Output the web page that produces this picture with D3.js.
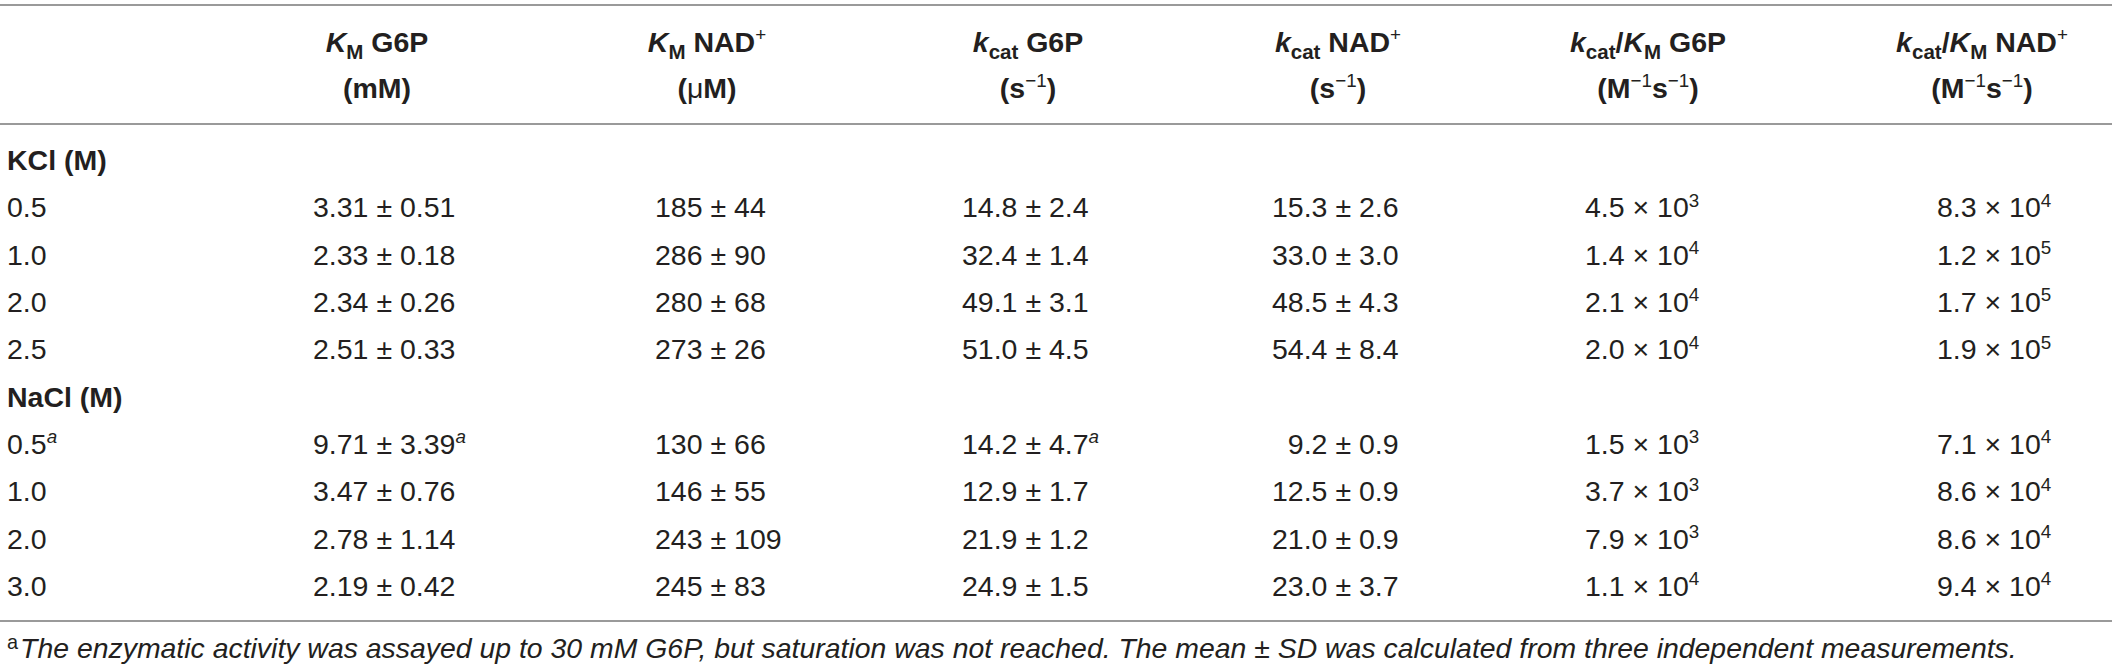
<!DOCTYPE html>
<html><head><meta charset="utf-8">
<script src="https://cdn.jsdelivr.net/npm/d3@7"></script>
<style>body{margin:0;background:#fff} svg{display:block}</style>
</head><body><svg id="c" width="2117" height="671"></svg>
<script>
// ---------- data ----------
const saltGroups = ["KCl (M)", "NaCl (M)"];
const kclConc = ["0.5", "1.0", "2.0", "2.5"];
const naclConc = ["0.5", "1.0", "2.0", "3.0"];
const kmG6PMean = [3.31, 2.33, 2.34, 2.51, 9.71, 3.47, 2.78, 2.19];
const kmG6PSd   = [0.51, 0.18, 0.26, 0.33, 3.39, 0.76, 1.14, 0.42];
const kmNADMean = [185, 286, 280, 273, 130, 146, 243, 245];
const kmNADSd   = [44, 90, 68, 26, 66, 55, 109, 83];
const kcatG6PMean = [14.8, 32.4, 49.1, 51.0, 14.2, 12.9, 21.9, 24.9];
const kcatG6PSd   = [2.4, 1.4, 3.1, 4.5, 4.7, 1.7, 1.2, 1.5];
const kcatNADMean = [15.3, 33.0, 48.5, 54.4, 9.2, 12.5, 21.0, 23.0];
const kcatNADSd   = [2.6, 3.0, 4.3, 8.4, 0.9, 0.9, 0.9, 3.7];
const effG6PMant = [4.5, 1.4, 2.1, 2.0, 1.5, 3.7, 7.9, 1.1];
const effG6PExp  = [3, 4, 4, 4, 3, 3, 3, 4];
const effNADMant = [8.3, 1.2, 1.7, 1.9, 7.1, 8.6, 8.6, 9.4];
const effNADExp  = [4, 5, 5, 5, 4, 4, 4, 4];
// footnote "a" marks: [row index, column index] (column 0 = concentration)
const footnoteMarks = [[4, 0], [4, 1], [4, 3]];
const headerTop = [
  [["K","i"],["M","sub"],[" G6P",""]],
  [["K","i"],["M","sub"],[" NAD",""],["+","sup"]],
  [["k","i"],["cat","sub"],[" G6P",""]],
  [["k","i"],["cat","sub"],[" NAD",""],["+","sup"]],
  [["k","i"],["cat","sub"],["/",""],["K","i"],["M","sub"],[" G6P",""]],
  [["k","i"],["cat","sub"],["/",""],["K","i"],["M","sub"],[" NAD",""],["+","sup"]]
];
const headerBottom = [
  [["(mM)",""]],
  [["(",""],["μ","n"],["M)",""]],
  [["(s",""],["−1","sup"],[")",""]],
  [["(s",""],["−1","sup"],[")",""]],
  [["(M",""],["−1","sup"],["s",""],["−1","sup"],[")",""]],
  [["(M",""],["−1","sup"],["s",""],["−1","sup"],[")",""]]
];
const footnoteText = "The enzymatic activity was assayed up to 30 mM G6P, but saturation was not reached. The mean ± SD was calculated from three independent measurements.";

// ---------- layout ----------
const W = 2117, H = 671;
const FONT = "'Liberation Sans', Arial, Helvetica, sans-serif";
const FS = 28.5;
const headerCenters = [377, 707, 1028, 1338, 1648, 1982];
const valueStarts = [313, 655, 962, 1272, 1585, 1937];
const labelX = 7;
const lineColor = "#9a9a9a";
const textColor = "#231f20";

const svg = d3.select("#c").attr("font-family", FONT).attr("fill", textColor);

// rows: group header + rows
const rowKeys = [];
rowKeys.push("g0"); kclConc.forEach((c, i) => rowKeys.push("r" + i));
rowKeys.push("g1"); naclConc.forEach((c, i) => rowKeys.push("r" + (i + 4)));
const y = d3.scalePoint().domain(rowKeys).range([160, 586]);
const baseOff = 10;

// rules
const rules = [5, 124, 621];
svg.selectAll("line.rule").data(rules).join("line")
  .attr("x1", 0).attr("x2", 2112).attr("y1", d => d).attr("y2", d => d)
  .attr("stroke", lineColor).attr("stroke-width", 2);

// rich text helper
function rich(sel, segs, size, bold) {
  let off = 0;
  segs.forEach(([t, k]) => {
    let target = 0, fs = size, style = null, weight = bold ? "bold" : "normal";
    if (k === "sub") { target = size * 0.24; fs = size * 0.72; }
    if (k === "sup") { target = -size * 0.38; fs = size * 0.66; weight = "normal"; }
    if (k === "i") style = "italic";
    if (k === "n") weight = "normal";
    if (k === "supi") { target = -size * 0.38; fs = size * 0.66; style = "italic"; weight = "normal"; }
    const ts = sel.append("tspan").text(t).attr("font-size", fs).attr("font-weight", weight);
    if (style) ts.attr("font-style", style);
    if (target !== off) { ts.attr("dy", target - off); off = target; }
  });
}

// headers
headerTop.forEach((segs, j) => {
  const t = svg.append("text").attr("x", headerCenters[j]).attr("y", 52)
    .attr("text-anchor", "middle");
  rich(t, segs, FS, true);
  const b = svg.append("text").attr("x", headerCenters[j]).attr("y", 98)
    .attr("text-anchor", "middle");
  rich(b, headerBottom[j], FS, true);
});

// group labels
saltGroups.forEach((g, i) => {
  svg.append("text").attr("x", labelX).attr("y", y("g" + i) + baseOff)
    .attr("font-size", FS).attr("font-weight", "bold").text(g);
});

const f2 = d3.format(".2f"), f1 = d3.format(".1f"), f0 = d3.format("d");
const conc = kclConc.concat(naclConc);
const hasMark = (r, c) => footnoteMarks.some(m => m[0] === r && m[1] === c);
const pm = (m, s, f) => f(m) + " ± " + f(s);

conc.forEach((c, r) => {
  const yy = y("r" + r) + baseOff;
  const cells = [
    [[c, ""]],
    [[pm(kmG6PMean[r], kmG6PSd[r], f2), ""]],
    [[pm(kmNADMean[r], kmNADSd[r], f0), ""]],
    [[pm(kcatG6PMean[r], kcatG6PSd[r], f1), ""]],
    [[(kcatNADMean[r] < 10 ? "\u2007" : "") + pm(kcatNADMean[r], kcatNADSd[r], f1), ""]],
    [[f1(effG6PMant[r]) + " × 10", ""], [String(effG6PExp[r]), "sup"]],
    [[f1(effNADMant[r]) + " × 10", ""], [String(effNADExp[r]), "sup"]]
  ];
  cells.forEach((segs, ci) => {
    if (hasMark(r, ci)) segs = segs.concat([["a", "supi"]]);
    const x = ci === 0 ? labelX : valueStarts[ci - 1];
    const t = svg.append("text").attr("x", x).attr("y", yy);
    rich(t, segs, FS, false);
  });
});

// footnote
const fn = svg.append("text").attr("x", labelX).attr("y", 658);
fn.append("tspan").text("a").attr("font-size", FS * 0.7).attr("dy", -9);
fn.append("tspan").text(footnoteText).attr("font-size", FS).attr("font-style", "italic")
  .attr("dx", 2).attr("dy", 9);
// fit footnote to measured width of the reference
const len = fn.node().getComputedTextLength();
const target = 2015 - labelX;
const k = target / len;
fn.selectAll("tspan").attr("font-size", function () { return +d3.select(this).attr("font-size") * k; });
</script></body></html>
